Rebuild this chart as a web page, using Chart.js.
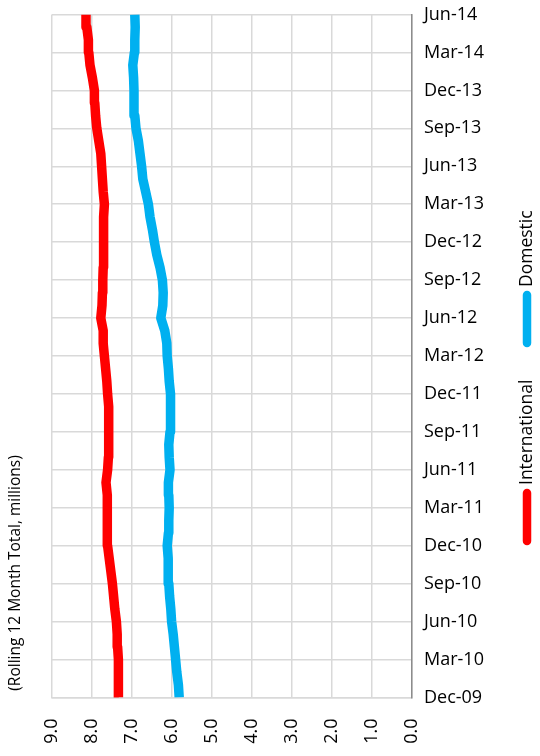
<!DOCTYPE html>
<html>
<head>
<meta charset="utf-8">
<script src="https://cdn.jsdelivr.net/npm/chart.js@4.4.1/dist/chart.umd.min.js"></script>
<style>
  html, body { margin: 0; padding: 0; background: #fff; }
  #wrap { width: 540px; height: 756px; }
</style>
</head>
<body>
<div id="wrap"><canvas id="lineChart" width="540" height="756"></canvas></div>
<script>
// Months, Dec-09 .. Jun-14
const months = [
  'Dec-09', 'Jan-10', 'Feb-10', 'Mar-10', 'Apr-10', 'May-10', 'Jun-10', 'Jul-10', 'Aug-10', 'Sep-10', 'Oct-10', 'Nov-10',
  'Dec-10', 'Jan-11', 'Feb-11', 'Mar-11', 'Apr-11', 'May-11', 'Jun-11', 'Jul-11', 'Aug-11', 'Sep-11', 'Oct-11', 'Nov-11',
  'Dec-11', 'Jan-12', 'Feb-12', 'Mar-12', 'Apr-12', 'May-12', 'Jun-12', 'Jul-12', 'Aug-12', 'Sep-12', 'Oct-12', 'Nov-12',
  'Dec-12', 'Jan-13', 'Feb-13', 'Mar-13', 'Apr-13', 'May-13', 'Jun-13', 'Jul-13', 'Aug-13', 'Sep-13', 'Oct-13', 'Nov-13',
  'Dec-13', 'Jan-14', 'Feb-14', 'Mar-14', 'Apr-14', 'May-14', 'Jun-14'
];

// Rolling 12 month totals (millions)
const international = [
  7.33, 7.33, 7.34, 7.35, 7.36, 7.37, 7.39, 7.43, 7.46, 7.49, 7.53, 7.57,
  7.61, 7.62, 7.62, 7.61, 7.62, 7.65, 7.61, 7.59, 7.58, 7.58, 7.58, 7.59,
  7.61, 7.63, 7.66, 7.69, 7.72, 7.72, 7.78, 7.75, 7.74, 7.73, 7.72, 7.72,
  7.71, 7.71, 7.70, 7.69, 7.72, 7.74, 7.76, 7.78, 7.83, 7.88, 7.91, 7.93,
  7.94, 7.99, 8.05, 8.08, 8.09, 8.13, 8.15
];
const domestic = [
  5.82, 5.84, 5.88, 5.91, 5.94, 5.97, 6.01, 6.03, 6.06, 6.08, 6.09, 6.10,
  6.12, 6.09, 6.08, 6.07, 6.08, 6.09, 6.05, 6.07, 6.08, 6.05, 6.03, 6.03,
  6.05, 6.07, 6.09, 6.12, 6.13, 6.18, 6.28, 6.23, 6.22, 6.24, 6.30, 6.38,
  6.44, 6.49, 6.55, 6.59, 6.66, 6.73, 6.76, 6.80, 6.84, 6.90, 6.93, 6.95,
  6.95, 6.96, 6.98, 6.94, 6.93, 6.92, 6.93
];

const seriesNames = ['International', 'Domestic'];
const seriesColors = ['#FF0000', '#00B0F0'];
const axisTitle = '(Rolling 12 Month Total, millions)';

const FONT = '"Open Sans", sans-serif';
Chart.defaults.color = '#000';
Chart.defaults.font.family = FONT;

// rotated legend and value-axis title, drawn at the sides like the original
const sideText = {
  id: 'sideText',
  afterDraw(chart) {
    const ctx = chart.ctx;
    ctx.save();
    ctx.fillStyle = '#000';
    ctx.textBaseline = 'middle';

    // axis title on the left
    ctx.save();
    ctx.font = '15.5px ' + FONT;
    ctx.translate(16, 573);
    ctx.rotate(-Math.PI / 2);
    ctx.textAlign = 'center';
    ctx.fillText(axisTitle, 0, 0);
    ctx.restore();

    // legend on the right, bottom item first
    ctx.font = '17.5px ' + FONT;
    chart.data.datasets.forEach((ds, k) => {
      const x = 527;
      const base = 545 - k * 198;
      ctx.strokeStyle = ds.borderColor;
      ctx.lineWidth = 8.5;
      ctx.lineCap = 'round';
      ctx.beginPath();
      ctx.moveTo(x, base - 4);
      ctx.lineTo(x, base - 52);
      ctx.stroke();

      ctx.save();
      ctx.translate(x, base - 60);
      ctx.rotate(-Math.PI / 2);
      ctx.textAlign = 'left';
      ctx.fillText(ds.label, 0, 0);
      ctx.restore();
    });
    ctx.restore();
  }
};

const ctx = document.getElementById('lineChart').getContext('2d');
const myChart = new Chart(ctx, {
  type: 'line',
  data: {
    labels: months,
    datasets: [
      {
        label: seriesNames[0],
        data: international,
        borderColor: seriesColors[0],
        borderWidth: 9.5,
        pointRadius: 0,
        tension: 0,
        borderJoinStyle: 'round',
        clip: 0
      },
      {
        label: seriesNames[1],
        data: domestic,
        borderColor: seriesColors[1],
        borderWidth: 9.5,
        pointRadius: 0,
        tension: 0,
        borderJoinStyle: 'round',
        clip: 0
      }
    ]
  },
  options: {
    indexAxis: 'y',
    responsive: false,
    animation: false,
    layout: { padding: { left: 52, right: 40, top: 14.5, bottom: 0 } },
    plugins: {
      legend: { display: false },
      tooltip: { enabled: false }
    },
    scales: {
      x: {
        type: 'linear',
        position: 'bottom',
        min: 0,
        max: 9,
        reverse: true,
        afterFit: s => { s.height = 58.5; },
        grid: { color: '#d9d9d9', lineWidth: 1.5, drawTicks: false },
        border: { color: '#d9d9d9', width: 1.5 },
        ticks: {
          stepSize: 1,
          minRotation: 90,
          maxRotation: 90,
          padding: 21,
          font: { size: 18 },
          callback: v => v.toFixed(1)
        }
      },
      y: {
        type: 'category',
        position: 'right',
        reverse: true,
        offset: false,
        afterFit: s => {
          s.width = 88;
          // labels may overhang the plot edges, as in the original
          s.paddingTop = 0;
          s.paddingBottom = 0;
        },
        grid: {
          drawTicks: false,
          lineWidth: 1.5,
          color: c => (c.index % 3 === 0 ? '#d9d9d9' : 'rgba(0,0,0,0)')
        },
        border: { color: '#8c8c8c', width: 1.5 },
        ticks: {
          autoSkip: false,
          padding: 12,
          font: { size: 18 },
          callback: (v, i) => (i % 3 === 0 ? months[i] : '')
        }
      }
    }
  },
  plugins: [sideText]
});
</script>
</body>
</html>
